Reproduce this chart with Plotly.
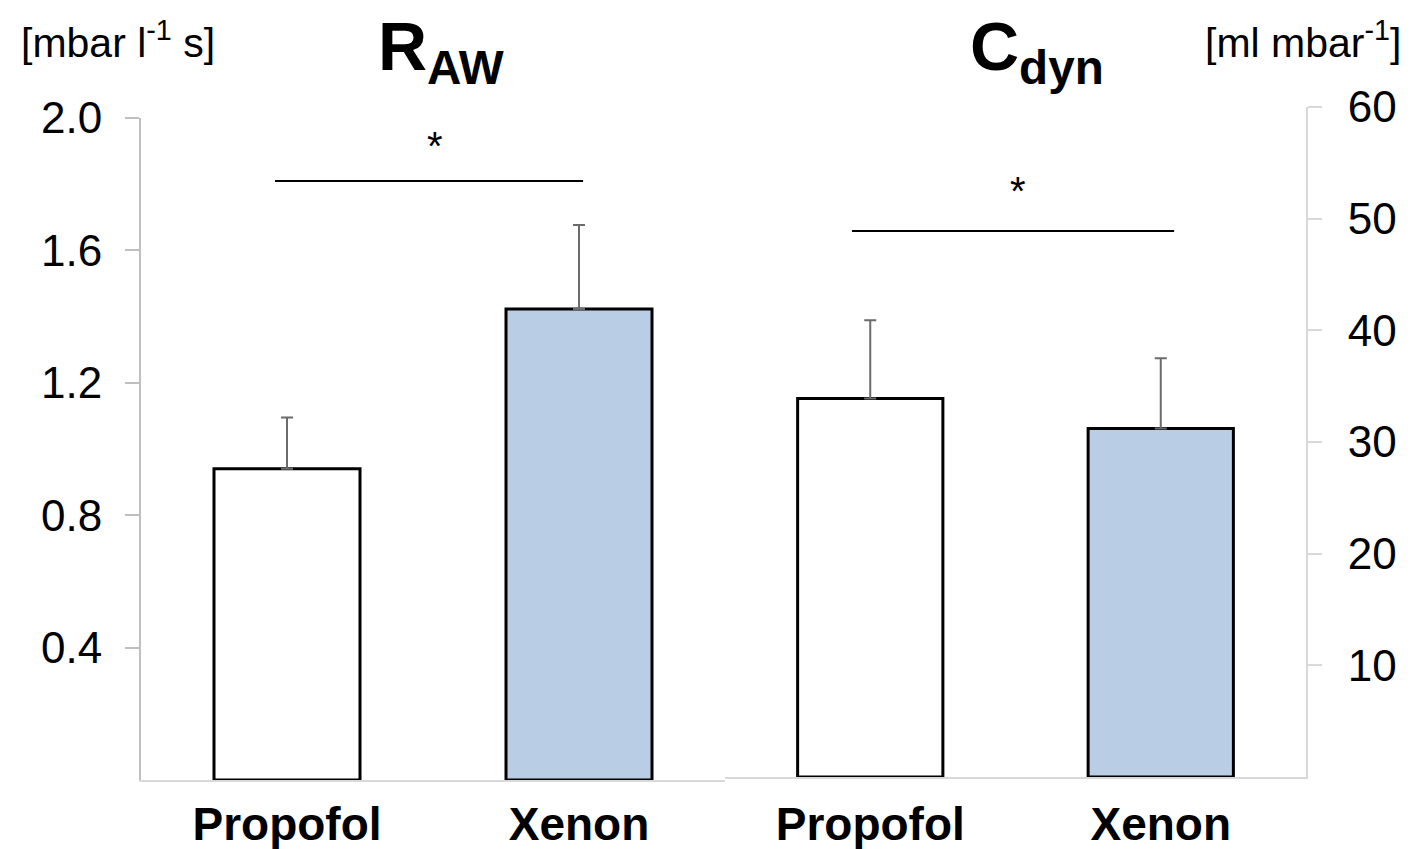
import plotly.graph_objects as go

# ---- data ----
categories = ["Propofol", "Xenon"]
raw_mean = [0.94, 1.423]
raw_sd = [0.155, 0.254]
cdyn_mean = [33.9, 31.2]
cdyn_sd = [7.0, 6.3]
bar_colors = ["#ffffff", "#b9cde4"]
raw_ticks = [0.4, 0.8, 1.2, 1.6, 2.0]
raw_ticktext = ["0.4", "0.8", "1.2", "1.6", "2.0"]
cdyn_ticks = [10, 20, 30, 40, 50, 60]
cdyn_ticktext = ["10", "20", "30", "40", "50", "60"]
sig_raw = dict(x0=-0.041, x1=1.014, y=1.81, star_y=1.915)
sig_cdyn = dict(x0=-0.063, x1=1.046, y=48.9, star_y=52.5)

W, H = 1410, 849
L, R, T, B = 141, 104, 100, 69
PW, PH = W - L - R, H - T - B


def px_x(px):
    return (px - L) / PW


def px_y(py):
    return (H - B - py) / PH


FONT = "Liberation Sans, Arial, sans-serif"
GRAY_L = "#bfbfbf"
GRAY_R = "#d9d9d9"
ERR = "#6b6b6b"

fig = go.Figure()
fig.add_trace(go.Bar(
    x=categories, y=raw_mean, width=0.5, xaxis="x", yaxis="y",
    marker=dict(color=bar_colors, line=dict(color="black", width=3)),
    error_y=dict(type="data", symmetric=False, array=raw_sd, arrayminus=[0, 0],
                 color=ERR, thickness=2, width=6),
    showlegend=False,
))
fig.add_trace(go.Bar(
    x=categories, y=cdyn_mean, width=0.5, xaxis="x2", yaxis="y2",
    marker=dict(color=bar_colors, line=dict(color="black", width=3)),
    error_y=dict(type="data", symmetric=False, array=cdyn_sd, arrayminus=[0, 0],
                 color=ERR, thickness=2, width=6),
    showlegend=False,
))

xsplit = px_x(725)
y_left_top = px_y(118)
y2_bot = px_y(777)
y2_top = px_y(107)

fig.update_layout(
    width=W, height=H,
    margin=dict(l=L, r=R, t=T, b=B, autoexpand=False),
    paper_bgcolor="white", plot_bgcolor="white",
    font=dict(family=FONT, color="black"),
    bargap=0.5,
    xaxis=dict(domain=[0, xsplit], anchor="y", type="category", automargin=False,
               showline=True, linecolor=GRAY_R, linewidth=2, ticks="",
               showgrid=False, layer="below traces",
               tickfont=dict(size=46, family=FONT, weight="bold"),
               ticklabelstandoff=3),
    xaxis2=dict(domain=[xsplit, 1], anchor="y2", type="category", automargin=False,
                showline=True, linecolor=GRAY_R, linewidth=2, ticks="",
                showgrid=False, layer="below traces",
                tickfont=dict(size=46, family=FONT, weight="bold"),
                ticklabelstandoff=6),
    yaxis=dict(domain=[0, y_left_top], range=[0, 2.0], anchor="x", automargin=False,
               showline=True, linecolor=GRAY_L, linewidth=2,
               ticks="outside", ticklen=14, tickcolor=GRAY_L, tickwidth=2,
               tickvals=raw_ticks, ticktext=raw_ticktext,
               showgrid=False, zeroline=False,
               tickfont=dict(size=44, family=FONT), ticklabelstandoff=14),
    yaxis2=dict(domain=[y2_bot, y2_top], range=[0, 60], anchor="x2", side="right",
                automargin=False,
                showline=True, linecolor=GRAY_R, linewidth=2,
                ticks="outside", ticklen=14, tickcolor=GRAY_R, tickwidth=2,
                tickvals=cdyn_ticks, ticktext=cdyn_ticktext,
                showgrid=False, zeroline=False,
                tickfont=dict(size=44, family=FONT), ticklabelstandoff=17),
)

# significance lines
fig.add_shape(type="line", xref="x", yref="y", x0=sig_raw["x0"], x1=sig_raw["x1"],
              y0=sig_raw["y"], y1=sig_raw["y"], line=dict(color="black", width=2))
fig.add_shape(type="line", xref="x2", yref="y2", x0=sig_cdyn["x0"], x1=sig_cdyn["x1"],
              y0=sig_cdyn["y"], y1=sig_cdyn["y"], line=dict(color="black", width=2))
fig.add_annotation(xref="x", yref="y", x=0.507, y=sig_raw["star_y"], text="*",
                   showarrow=False, font=dict(size=40, family=FONT), yanchor="middle")
fig.add_annotation(xref="x2", yref="y2", x=0.509, y=sig_cdyn["star_y"], text="*",
                   showarrow=False, font=dict(size=40, family=FONT), yanchor="middle")

# titles
fig.add_annotation(xref="paper", yref="paper", x=px_x(376), y=px_y(6),
                   xanchor="left", yanchor="top", showarrow=False,
                   text="<b>R<sub>AW</sub></b>", font=dict(size=68, family=FONT))
fig.add_annotation(xref="paper", yref="paper", x=px_x(968), y=px_y(6),
                   xanchor="left", yanchor="top", showarrow=False,
                   text="<b>C<sub>dyn</sub></b>", font=dict(size=68, family=FONT))
# unit labels
fig.add_annotation(xref="paper", yref="paper", x=px_x(19), y=px_y(12),
                   xanchor="left", yanchor="top", showarrow=False,
                   text="[mbar l<sup>-1</sup> s]", font=dict(size=41, family=FONT))
fig.add_annotation(xref="paper", yref="paper", x=px_x(1403), y=px_y(12),
                   xanchor="right", yanchor="top", showarrow=False,
                   text="[ml mbar<sup>-1</sup>]", font=dict(size=41, family=FONT))

fig.write_html("out.html", config={"displayModeBar": False},
               post_script="document.body.style.margin='0px';")
